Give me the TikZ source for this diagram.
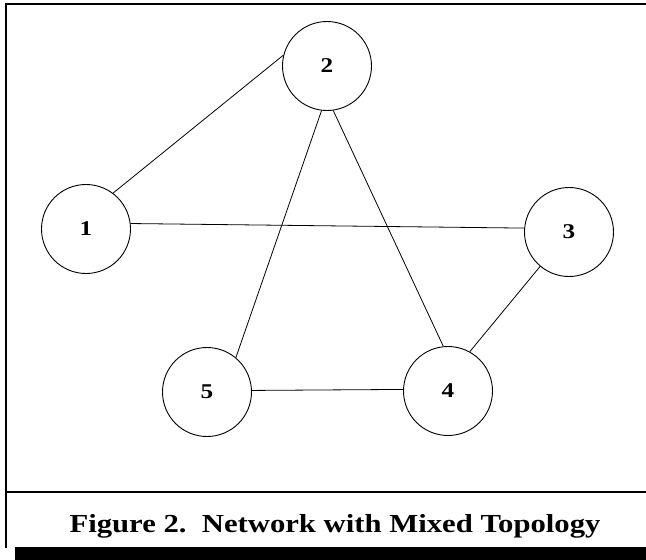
\documentclass[tikz,border=0pt]{standalone}
\usepackage{fontspec}
\setmainfont{Liberation Serif}
\newcommand{\wide}[1]{\scalebox{1.2}[1]{#1}}
\begin{document}
\begin{tikzpicture}[x=1pt,y=-1pt,
  vert/.style={circle,draw,line width=0.9pt,minimum size=89pt,inner sep=0pt,font=\fontsize{21}{24}\selectfont\bfseries},
  edge/.style={line width=0.8pt}]
\useasboundingbox (0,0) rectangle (646,560);
\fill[white] (0,0) rectangle (646,560);
% frame
\fill[black] (15,547) rectangle (646,560);
\draw[line width=2.2pt] (646,4) -- (6,4) -- (6,548);
\draw[line width=2.2pt] (6,492) -- (646,492);
\node[font=\fontsize{26}{28}\selectfont\bfseries,anchor=base,inner sep=0pt] (cap) at (335,532) {\scalebox{1.18}[1]{Figure 2.\ \ Network with Mixed Topology}};
% vertices
\node[vert] (n1) at (86,229) {\wide{1}};
\node[vert] (n2) at (327,66) {\wide{2}};
\node[vert] (n3) at (569,232) {\wide{3}};
\node[vert] (n4) at (448,391) {\wide{4}};
\node[vert] (n5) at (207,392) {\wide{5}};
% edges
\draw[edge] (n1.53) -- (n2.166);
\draw[edge] (n1.7) -- (n3.175);
\draw[edge] (n2.263) -- (n5.50);
\draw[edge] (n2.278) -- (n4.96);
\draw[edge] (n3.230) -- (n4.61);
\draw[edge] (n5.2) -- (n4.178);
\end{tikzpicture}
\end{document}
